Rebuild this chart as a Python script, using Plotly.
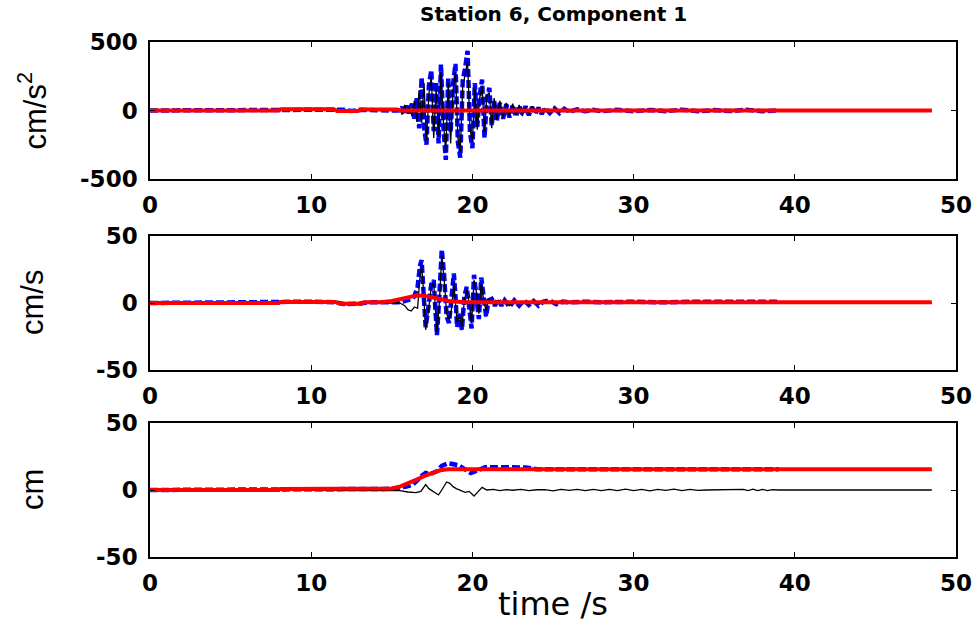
import plotly.graph_objects as go

# ---------------- data ----------------
# Acceleration (cm/s^2)
acc_t = [0, 8.0, 8.2, 9.5, 10.0, 11.5, 12.0, 12.5, 13.0, 14.0, 15.0, 15.5, 15.65, 15.8, 15.95,
         16.1, 16.25, 16.4, 16.55, 16.7, 16.85, 17.0, 17.15, 17.3, 17.45, 17.6, 17.75, 17.9,
         18.05, 18.2, 18.35, 18.5, 18.65, 18.8, 18.95, 19.1, 19.25, 19.4, 19.55, 19.7, 19.85,
         20.0, 20.15, 20.3, 20.45, 20.6, 20.75, 20.9, 21.05, 21.2, 21.35, 21.5, 21.7, 21.9,
         22.1, 22.3, 22.5, 22.7, 22.9, 23.1, 23.3, 23.5, 23.7, 23.9, 24.1, 24.3, 24.5, 24.8,
         25.1, 25.4, 25.7, 26.0, 26.5, 27.0, 27.5, 28.0, 29.0, 30.0, 31.0, 32.0, 33.0, 34.0,
         35.0, 36.0, 37.0, 38.0, 39.0]
acc_blue = [0, 0, 3, 2, 4, 3, 6, -4, 5, 2, 3, 0, 25, -30, 35,
            -20, 50, -60, 90, -130, 240, -120, -250, 180, 295, -150, 210, -240,
            335, -120, -360, 240, -160, 190, 340, -230, -345, 220, 310, 435, -160,
            -275, 200, -120, 110, 225, -200, 90, 165, -110, 70, -80, 55, -60,
            45, -50, 40, -45, 35, -30, 30, -35, 25, -25, 20, -25, 20, -18,
            15, -20, 12, -10, 8, -6, 5, -6, 5, -5, 4, -5, 6, -6,
            3, -4, 5, -5, 0]
acc_black_t = acc_t + [48.5]
acc_black = [0, 0, 2, 3, 2, 5, -3, 4, 3, 2, 1, 5, -30, 40, -20,
             30, -40, 70, -80, 150, -90, 200, -220, 120, 250, -200, 160, -190,
             280, -80, -300, 200, -240, 150, 280, -200, -300, 180, 260, 360, -130,
             -230, 160, -140, 90, 180, -160, 110, 130, -130, 90, -70, 70, -50,
             55, -40, 50, -35, 40, -40, 25, -30, 30, -20, 25, -20, 15, -15,
             18, -15, 10, -12, 6, -5, 6, -5, 4, -6, 5, -4, 5, -5,
             4, -3, 4, -4, 0, 0]
acc_red_t = [0, 8.0, 8.1, 11.4, 11.6, 12.9, 13.1, 15.3, 15.6, 48.5]
acc_red = [0, 0, 10, 10, -4, -4, 8, 8, 0, 0]

# Velocity (cm/s)
vel_t = [0, 8.0, 8.2, 10.0, 11.5, 12.0, 13.0, 13.5, 14.5, 15.0, 15.5, 15.8, 16.0, 16.2, 16.4,
         16.6, 16.75, 16.85, 16.95, 17.1, 17.25, 17.45, 17.6, 17.7, 17.8, 17.95, 18.1, 18.25,
         18.4, 18.55, 18.7, 18.85, 18.95, 19.05, 19.2, 19.35, 19.5, 19.65, 19.8, 19.95, 20.1,
         20.25, 20.4, 20.55, 20.7, 20.85, 21.0, 21.2, 21.4, 21.6, 21.8, 22.0, 22.3, 22.6, 22.9,
         23.2, 23.5, 23.8, 24.1, 24.4, 24.8, 25.2, 25.6, 26.0, 27.0, 28.0, 30.0, 32.0, 34.0,
         36.0, 39.0]
vel_blue = [0, 0, 0.8, 1, 0.5, -0.8, -0.5, 0.5, 0.5, 0.3, 0.5, 1.5, 2, 3, 5,
            12, 28, 32, 12, -18, -5, 14, 17, 0, -24, 5, 40, 20,
            -10, -15, 0, 22, 5, -18, -8, -20, 5, 12, -3, -19, 21,
            5, -12, 19, 5, -10, 2, 3, -2, 3, -2, 2, -3, 2, -2,
            2, -1.5, 1.5, -2, 1, 2, -1, 1, 0.5, 1, 0.5, 1, 0.5, 1,
            0.8, 1]
vel_black_t = vel_t + [48.5]
vel_black = [0, 0, 0.5, 0.8, 0.3, -0.5, -0.3, 0.3, 0.3, 0.2, 0, -2, -5, -6, -3,
             -4, 20, 28, 12, -20, -8, 12, 15, -2, -22, 0, 36, 18,
             -8, -12, -5, 15, 2, -14, -10, -18, 2, 10, 0, -15, 17,
             8, -8, 15, 2, -6, 3, 0, -1, 2, -1, 1, -2, 1, -1,
             1, -1, 1, -1, 0.5, 1, -0.5, 0.5, 0, 0.5, 0, 0.5, 0, 0.5,
             0, 0, 0]
vel_red_t = [0, 8.0, 8.1, 11.5, 11.8, 13.0, 13.3, 14.3, 15.0, 15.5, 16.0, 16.5, 17.0, 17.5,
             18.0, 18.5, 19.0, 19.5, 20.0, 48.5]
vel_red = [0, 0, 0.8, 0.8, -0.5, -0.5, 0.5, 0.5, 1.5, 3, 4.5, 5.5, 5.5, 4.5,
           3, 1.5, 0.8, 0.5, 0.5, 0.5]

# Displacement (cm)
dis_blue_t = [0, 8.0, 8.1, 14.5, 15.0, 15.5, 15.9, 16.3, 16.6, 16.9, 17.1, 17.4, 17.8, 18.1,
              18.5, 18.8, 19.1, 19.4, 19.7, 19.9, 20.2, 20.5, 20.8, 22.0, 23.3, 24.0, 30.0, 39.0]
dis_blue = [0, 0, 0.8, 0.8, 1, 1.5, 2.5, 4, 8, 11, 12.7, 12, 14, 18,
            20, 19, 18.6, 16.5, 14, 12.7, 14, 15.5, 17, 17, 16.8, 15.5, 15.5, 15.5]
dis_black_t = [0, 8.0, 15.0, 15.5, 16.0, 16.5, 16.8, 17.1, 17.3, 17.5, 17.7, 17.9, 18.1, 18.4,
               18.6, 18.8, 19.0, 19.3, 19.55, 19.8, 20.1, 20.3, 20.6, 20.9, 21.3, 21.7, 22.1,
               22.5, 23.0, 23.5, 24.0, 24.5, 25.0, 25.5, 26.0, 26.5, 27.0, 27.5, 28.0, 28.5,
               29.0, 29.5, 30.0, 30.5, 31.0, 31.5, 32.0, 32.5, 33.0, 33.5, 34.0, 34.5, 36.5,
               36.8, 37.1, 37.4, 37.7, 38.0, 38.3, 38.6, 39.0, 48.5]
dis_black = [0, 0, 0, -0.5, -1.5, -2, -1, 4, 1, -0.5, -2.5, -3.7, 0, 6,
             5, 2.5, 1, -0.5, -1.7, -1, -4.5, -2, 2, 0, 0.5, -0.5, 0.3,
             -0.2, 0.4, -0.5, 0.2, 0.3, -0.6, 0.4, -0.3, 0.5, -0.5, 0.5, -0.4, 0.5,
             -0.5, 0.6, -0.4, 0.5, -0.6, 0.4, -0.3, 0.6, -0.5, 0.4, -0.3, 0, 0,
             0.5, -0.4, 0.6, -0.5, 0.5, -0.4, 0.3, 0, 0]
dis_red_t = [0, 8.0, 8.1, 14.5, 15.0, 15.5, 16.0, 16.5, 17.0, 17.5, 18.0, 18.5, 19.0, 48.5]
dis_red = [0, 0, 0.8, 0.8, 1.2, 2.5, 4.8, 7.5, 10.3, 12.8, 14.7, 15.4, 15.5, 15.5]

x_ticks = [0, 10, 20, 30, 40, 50]
y_ticks_acc = [-500, 0, 500]
y_ticklabels_acc = ["-500", "0", "500"]
y_ticks_vd = [-50, 0, 50]
y_ticklabels_vd = ["-50", "0", "50"]

title_text = "Station 6, Component 1"
ylabels = ["cm/s<sup>2</sup>", "cm/s", "cm"]
xlabel = "time /s"

# ---------------- figure ----------------
W, H = 977, 625
fig = go.Figure()

BLUE = "#0000FF"
RED = "#FF0000"

panels = [
    (acc_t, acc_blue, acc_black_t, acc_black, acc_red_t, acc_red, ""),
    (vel_t, vel_blue, vel_black_t, vel_black, vel_red_t, vel_red, "2"),
    (dis_blue_t, dis_blue, dis_black_t, dis_black, dis_red_t, dis_red, "3"),
]
for bt, bv, kt, kv, rt, rv, ax in panels:
    xa, ya = "x" + ax, "y" + ax
    fig.add_trace(go.Scatter(x=bt, y=bv, mode="lines", xaxis=xa, yaxis=ya,
                             line=dict(color=BLUE, width=4.5, dash="8px,3px"),
                             showlegend=False, hoverinfo="skip"))
    fig.add_trace(go.Scatter(x=kt, y=kv, mode="lines", xaxis=xa, yaxis=ya,
                             line=dict(color="black", width=1.3),
                             showlegend=False, hoverinfo="skip"))
    fig.add_trace(go.Scatter(x=rt, y=rv, mode="lines", xaxis=xa, yaxis=ya,
                             line=dict(color=RED, width=4),
                             showlegend=False, hoverinfo="skip"))

# pixel geometry of plot areas
x0, x1 = 150, 956
rows = [(42, 179), (236, 370), (423, 557)]

tickfont = dict(family="DejaVu Sans", size=23, color="black", weight="bold")
axcommon = dict(showline=True, linecolor="black", linewidth=1.5, mirror="ticks",
                ticks="inside", ticklen=5, tickwidth=1, tickcolor="black",
                showgrid=False, zeroline=False, tickfont=tickfont, automargin=False)

yranges = [[-500, 500], [-50, 50], [-50, 50]]
yticks = [y_ticks_acc, y_ticks_vd, y_ticks_vd]
yticktexts = [y_ticklabels_acc, y_ticklabels_vd, y_ticklabels_vd]
layout_axes = {}
for i, (top, bot) in enumerate(rows):
    suffix = "" if i == 0 else str(i + 1)
    anchor = "y" + suffix
    layout_axes["xaxis" + suffix] = dict(
        domain=[x0 / W, x1 / W], range=[0, 50], tickvals=x_ticks,
        anchor=anchor, ticklabelstandoff=5, **axcommon)
    layout_axes["yaxis" + suffix] = dict(
        domain=[1 - bot / H, 1 - top / H], range=yranges[i], tickvals=yticks[i],
        ticktext=yticktexts[i],
        anchor="x" + suffix, ticklabelstandoff=6, **axcommon)

annotations = [
    dict(text=title_text, x=(x0 + x1) / 2 / W, y=1.0, xref="paper", yref="paper",
         xanchor="center", yanchor="top", showarrow=False,
         font=dict(family="DejaVu Sans", size=20, color="black", weight="bold")),
    dict(text=xlabel, x=(x0 + x1) / 2 / W, y=0.0, xref="paper", yref="paper",
         xanchor="center", yanchor="bottom", showarrow=False,
         font=dict(family="DejaVu Sans", size=32, color="black")),
]
for i, (top, bot) in enumerate(rows):
    annotations.append(dict(
        text=ylabels[i], x=32 / W, y=1 - (top + bot) / 2 / H, xref="paper", yref="paper",
        xanchor="center", yanchor="middle", textangle=-90, showarrow=False,
        font=dict(family="Liberation Sans", size=31, color="black")))

fig.update_layout(
    width=W, height=H, margin=dict(l=0, r=0, t=0, b=0, autoexpand=False),
    paper_bgcolor="white", plot_bgcolor="white",
    annotations=annotations, **layout_axes)

fig.write_html("out.html", config={"displayModeBar": False},
               post_script="document.body.style.margin='0px';document.body.style.overflow='hidden';")
